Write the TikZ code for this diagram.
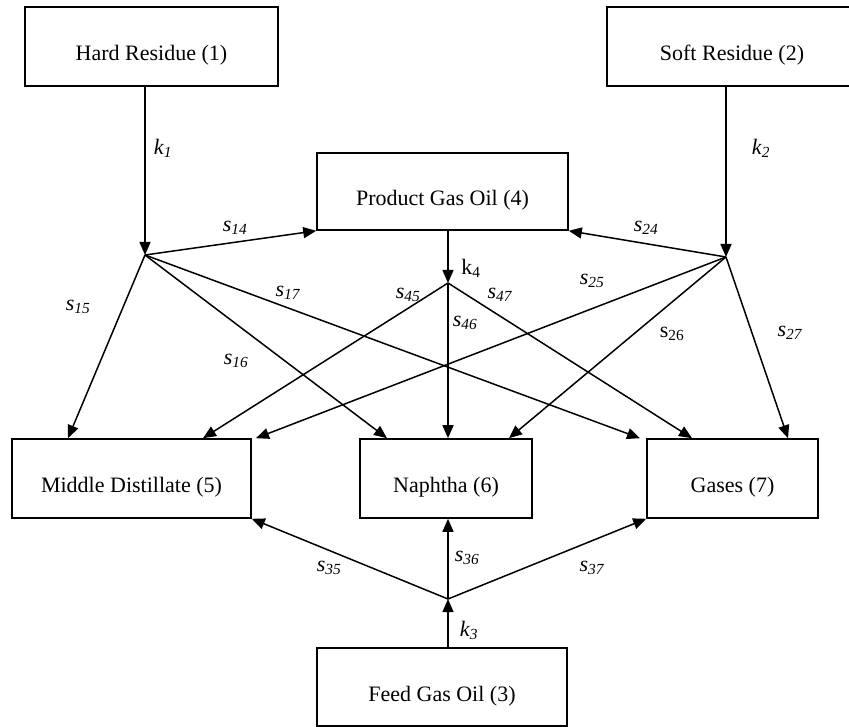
\documentclass[tikz,border=0pt]{standalone}
\usepackage{fontspec}
\setmainfont{Liberation Serif}
\usetikzlibrary{arrows.meta}
% italic rate constant with italic subscript
\newcommand\slab[2]{\textit{#1}\textsubscript{\textit{#2}}}
\begin{document}
\begin{tikzpicture}[x=1pt,y=-1pt,
  box/.style={draw, line width=1.6pt, inner sep=0pt,
    font=\fontsize{22}{26}\selectfont, text height=32pt, text depth=4pt},
  flow/.style={line width=1.5pt, -{Triangle[length=13pt,width=11pt]}},
  rate/.style={font=\fontsize{22}{26}\selectfont, inner sep=0pt}]
\useasboundingbox (0,0) rectangle (849,727);
\clip (0,0) rectangle (849,727);

% lumps
\node[box, minimum width=253pt, minimum height=79pt] (hr)  at (151.5,46.5) {Hard Residue (1)};
\node[box, minimum width=250pt, minimum height=79pt] (sr)  at (732,46.5)   {Soft Residue (2)};
\node[box, minimum width=251pt, minimum height=77pt] (pgo) at (442.5,191.5) {Product Gas Oil (4)};
\node[box, minimum width=239pt, minimum height=79pt] (md)  at (131.5,478.5) {Middle Distillate (5)};
\node[box, minimum width=172pt, minimum height=79pt] (na)  at (446,478.5)  {Naphtha (6)};
\node[box, minimum width=171pt, minimum height=79pt] (ga)  at (732.5,478.5) {Gases (7)};
\node[box, minimum width=250pt, minimum height=78pt] (fgo) at (442,687)    {Feed Gas Oil (3)};

% branching points
\coordinate (h1) at (145,255);
\coordinate (h2) at (726,257);
\coordinate (h4) at (448,283);
\coordinate (h3) at (448,599);

% arrow ends on the product boxes
\coordinate (m15) at (68,0 |- md.north);
\coordinate (m45) at (203,0 |- md.north);
\coordinate (m25) at (256,0 |- md.north);
\coordinate (n16) at (387,0 |- na.north);
\coordinate (n46) at (448,0 |- na.north);
\coordinate (n26) at (509,0 |- na.north);
\coordinate (g17) at (640,0 |- ga.north);
\coordinate (g47) at (692,0 |- ga.north);
\coordinate (g27) at (788,0 |- ga.north);
\coordinate (n36) at (448,0 |- na.south);

% cracking of each feed lump
\draw[flow] (hr.south -| h1) -- (h1);
\draw[flow] (sr.south -| h2) -- (h2);
\draw[flow] (pgo.south -| h4) -- (h4);
\draw[flow] (fgo.north -| h3) -- (h3);

% product selectivities
\draw[flow] (h1) -- (pgo.south west);
\draw[flow] (h1) -- (m15);
\draw[flow] (h1) -- (n16);
\draw[flow] (h1) -- (g17);

\draw[flow] (h2) -- (pgo.south east);
\draw[flow] (h2) -- (m25);
\draw[flow] (h2) -- (n26);
\draw[flow] (h2) -- (g27);

\draw[flow] (h4) -- (m45);
\draw[flow] (h4) -- (n46);
\draw[flow] (h4) -- (g47);

\draw[flow] (h3) -- (md.south east);
\draw[flow] (h3) -- (n36);
\draw[flow] (h3) -- (ga.south west);

% labels
\node[rate] (lk1) at (163,148) {\slab{k}{1}};
\node[rate] (lk2) at (761,148) {\slab{k}{2}};
\node[rate] (lk4) at (471,268) {k\textsubscript{4}};
\node[rate] (lk3) at (469,630) {\slab{k}{3}};
\node[rate] (l14) at (235,228) {\slab{s}{14}};
\node[rate] (l24) at (646,228) {\slab{s}{24}};
\node[rate] (l15) at (78,307)  {\slab{s}{15}};
\node[rate] (l16) at (236,361) {\slab{s}{16}};
\node[rate] (l17) at (288,293) {\slab{s}{17}};
\node[rate] (l25) at (592,281) {\slab{s}{25}};
\node[rate] (l26) at (672,334) {s\textsubscript{26}};
\node[rate] (l27) at (790,333) {\slab{s}{27}};
\node[rate] (l45) at (408,295) {\slab{s}{45}};
\node[rate] (l46) at (465,323) {\slab{s}{46}};
\node[rate] (l47) at (500,295) {\slab{s}{47}};
\node[rate] (l35) at (329,568) {\slab{s}{35}};
\node[rate] (l36) at (467,558) {\slab{s}{36}};
\node[rate] (l37) at (592,568) {\slab{s}{37}};
\end{tikzpicture}
\end{document}
